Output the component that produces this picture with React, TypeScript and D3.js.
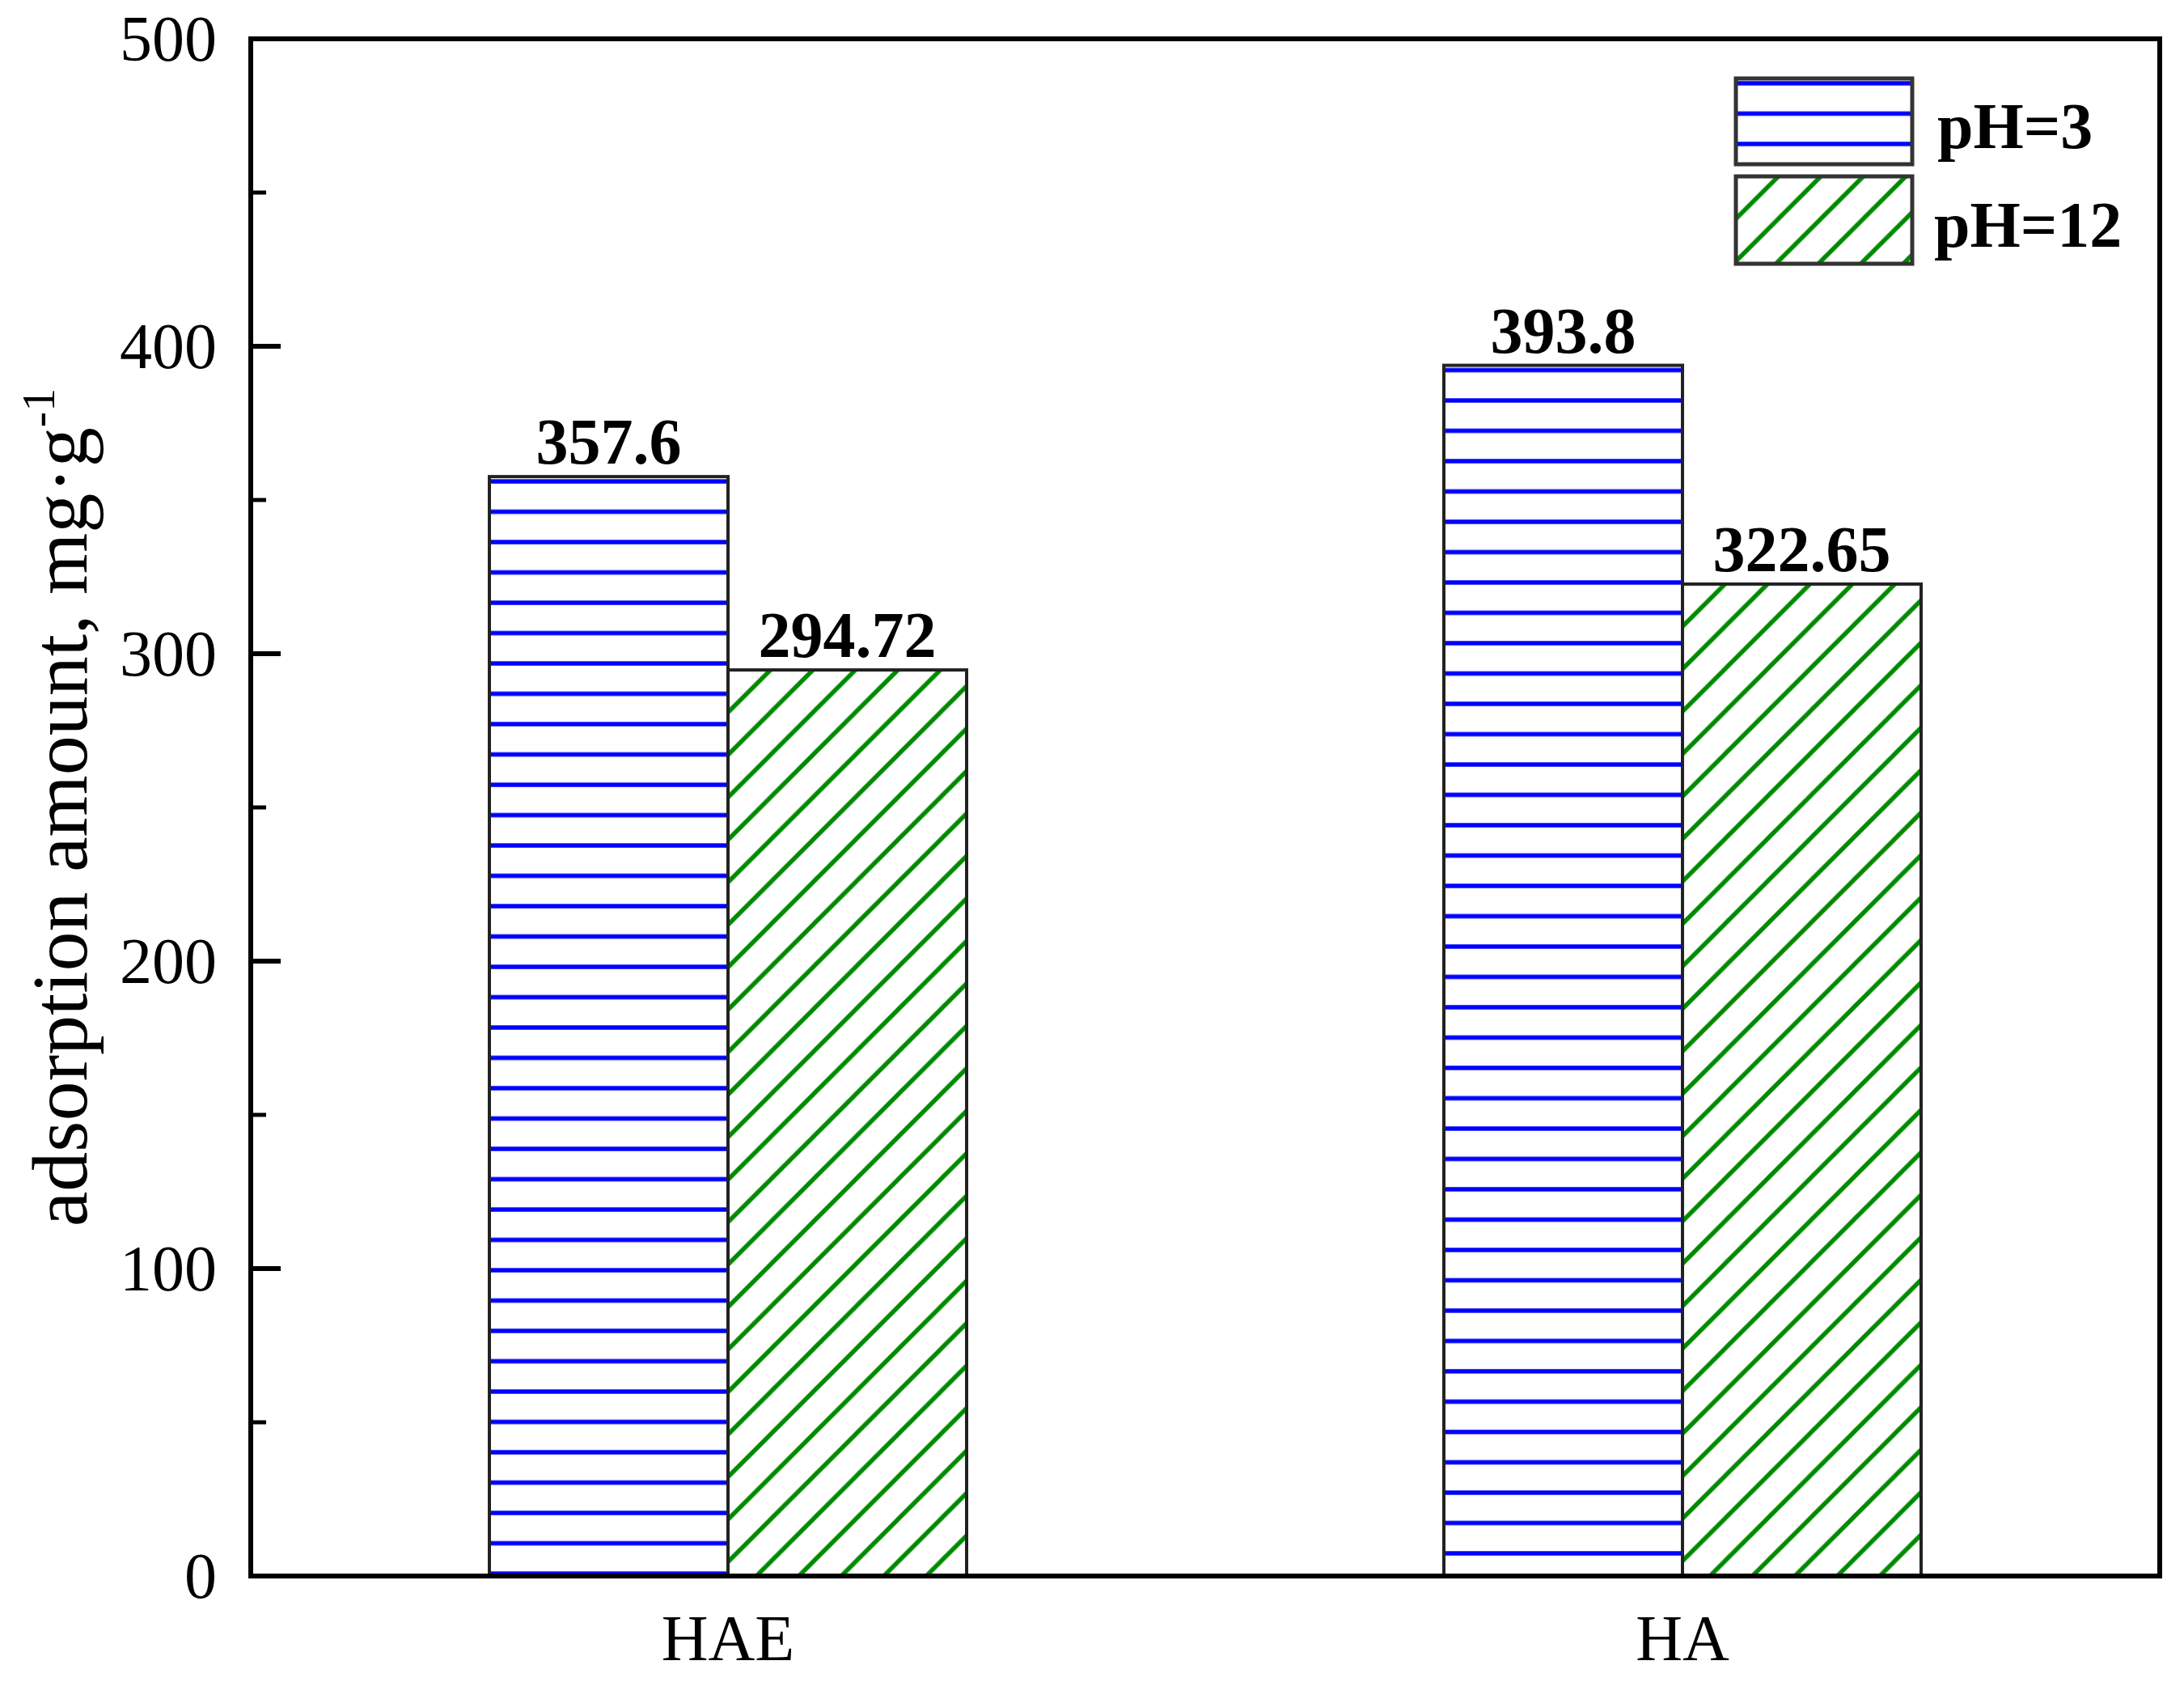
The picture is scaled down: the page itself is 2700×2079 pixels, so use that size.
import React from "react";
import * as d3 from "d3";

const categories = ["HAE", "HA"];
const seriesNames = ["pH=3", "pH=12"];
const pH3Values = [357.6, 393.8];
const pH12Values = [294.72, 322.65];
const valueLabels = [["357.6", "294.72"], ["393.8", "322.65"]];
const yTicks = [0, 100, 200, 300, 400, 500];
const yMinorTicks = [50, 150, 250, 350, 450];

const W = 2700;
const H = 2079;
const M = { left: 310, right: 30, top: 48, bottom: 131 };
const FONT = "'Liberation Serif', 'Times New Roman', serif";
const BLUE = "#0000ff";
const GREEN = "#008a00";

export default function App() {
  const x = d3.scaleBand<string>().domain(categories).range([M.left, W - M.right]).padding(0);
  const y = d3.scaleLinear().domain([0, 500]).range([H - M.bottom, M.top]);
  const bw = x.bandwidth();
  const inner = d3.scaleBand<string>().domain(seriesNames).range([-bw * 0.25, bw * 0.25]).padding(0);
  const series = [pH3Values, pH12Values];
  const y0 = y(0);

  const bars: any[] = [];
  categories.forEach((c, i) => {
    series.forEach((vals, j) => {
      const bx = (x(c) as number) + bw / 2 + (inner(seriesNames[j]) as number);
      const by = y(vals[i]);
      bars.push({ i, j, bx, by, w: inner.bandwidth(), h: y0 - by, label: valueLabels[i][j] });
    });
  });

  const legendX = 2146;
  const legendW = 218;
  const legendBoxes = [
    { y: 97, h: 106, ty: 183 },
    { y: 218, h: 108, ty: 305 },
  ];

  const hPat = (id: string, px: number, py: number) => (
    <pattern key={id} id={id} patternUnits="userSpaceOnUse" x={px} y={py} width={40} height={37.5}>
      <line x1={-5} x2={45} y1={6} y2={6} stroke={BLUE} strokeWidth={5.5} />
    </pattern>
  );
  const dPat = (id: string, px: number, py: number) => {
    const s = 52.5;
    return (
      <pattern key={id} id={id} patternUnits="userSpaceOnUse" x={px} y={py} width={s} height={s}>
        <path
          d={`M0,${s} L${s},0 M${-s / 4},${s / 4} L${s / 4},${-s / 4} M${(3 * s) / 4},${(5 * s) / 4} L${(5 * s) / 4},${(3 * s) / 4}`}
          stroke={GREEN}
          strokeWidth={5.5}
        />
      </pattern>
    );
  };

  return (
    <svg width={W} height={H} style={{ position: "absolute", left: 0, top: 0, background: "#fff" }}>
      <defs>
        {bars.map((b) => (b.j === 0 ? hPat(`p-${b.i}-${b.j}`, b.bx, b.by) : dPat(`p-${b.i}-${b.j}`, b.bx, b.by)))}
        {hPat("leg-0", legendX, legendBoxes[0].y)}
        {dPat("leg-1", legendX, legendBoxes[1].y)}
      </defs>
      <rect x={0} y={0} width={W} height={H} fill="#fff" />

      {bars.map((b) => (
        <g key={`b-${b.i}-${b.j}`}>
          <rect x={b.bx} y={b.by} width={b.w} height={b.h} fill="#fff" />
          <rect x={b.bx} y={b.by} width={b.w} height={b.h} fill={`url(#p-${b.i}-${b.j})`} stroke="#222" strokeWidth={4} />
          <text
            x={b.bx + b.w / 2}
            y={b.by - 16}
            textAnchor="middle"
            fontFamily={FONT}
            fontWeight="bold"
            fontSize={80}
            fill="#000"
          >
            {b.label}
          </text>
        </g>
      ))}

      {/* frame */}
      <rect x={M.left} y={M.top} width={W - M.left - M.right} height={y0 - M.top} fill="none" stroke="#000" strokeWidth={6} />

      {/* y ticks */}
      {yTicks.map((t) => (
        <g key={`t-${t}`}>
          <line x1={M.left} x2={M.left + 37} y1={y(t)} y2={y(t)} stroke="#000" strokeWidth={6} />
          <text x={268} y={y(t)} dy="0.34em" textAnchor="end" fontFamily={FONT} fontSize={80} fill="#000">
            {t}
          </text>
        </g>
      ))}
      {yMinorTicks.map((t) => (
        <line key={`m-${t}`} x1={M.left} x2={M.left + 19} y1={y(t)} y2={y(t)} stroke="#000" strokeWidth={5} />
      ))}

      {/* x labels */}
      {categories.map((c) => (
        <text key={c} x={(x(c) as number) + bw / 2} y={2052} textAnchor="middle" fontFamily={FONT} fontSize={80} fill="#000">
          {c}
        </text>
      ))}

      {/* y label */}
      <text
        transform={`translate(107, ${(M.top + y0) / 2}) rotate(-90)`}
        textAnchor="middle"
        fontFamily={FONT}
        fontSize={98}
        fill="#000"
      >
        adsorption amount, mg·g
        <tspan fontSize={58} dy={-40}>-1</tspan>
      </text>

      {/* legend */}
      {legendBoxes.map((lb, k) => (
        <g key={`leg-${k}`}>
          <rect x={legendX} y={lb.y} width={legendW} height={lb.h} fill="#fff" />
          <rect x={legendX} y={lb.y} width={legendW} height={lb.h} fill={`url(#leg-${k})`} stroke="#333" strokeWidth={5} />
          <text x={k === 0 ? 2395 : 2391} y={lb.ty} fontFamily={FONT} fontWeight="bold" fontSize={80} fill="#000">
            {seriesNames[k]}
          </text>
        </g>
      ))}
    </svg>
  );
}
